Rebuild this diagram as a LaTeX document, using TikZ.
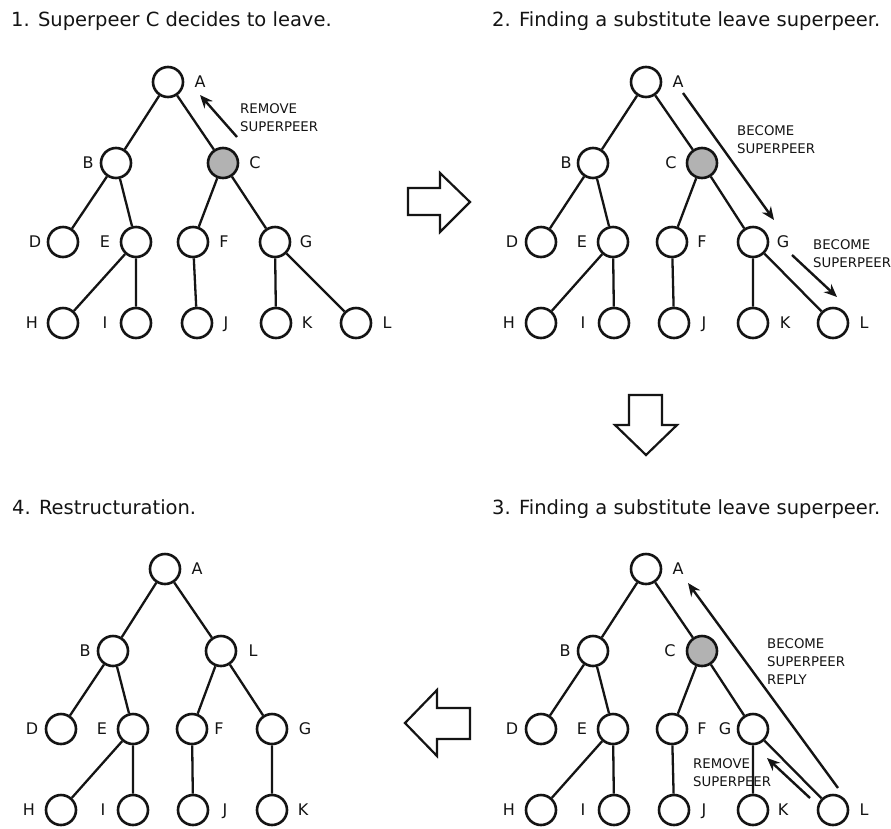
\documentclass[tikz,border=0pt]{standalone}
\usepackage{fontspec}
\setmainfont{DejaVu Sans}
\usetikzlibrary{arrows.meta}
\definecolor{spgrey}{RGB}{178,178,178}
\definecolor{ink}{RGB}{20,20,20}
\tikzset{
  peer/.style={circle, draw=ink, line width=2.6pt, minimum size=30pt, inner sep=0pt},
  leaving/.style={peer, fill=spgrey},
  lab/.style={font=\fontsize{16}{18}\selectfont, text=ink, inner sep=0pt, text height=11.7pt, text depth=0pt},
  ttl/.style={font=\fontsize{19.5}{23}\selectfont, text=ink, inner sep=0pt, anchor=west, text height=14.2pt, text depth=0pt},
  note/.style={font=\fontsize{13.3}{18}\selectfont, text=ink, inner sep=0pt, align=left, anchor=north west},
  link/.style={draw=ink, line width=2.3pt},
  msg/.style={draw=ink, line width=2.4pt, -{Stealth[length=13pt,width=11pt]}},
  bigarrow/.style={draw=ink, line width=2.2pt, line join=miter, fill=white},
}
\begin{document}
\begin{tikzpicture}[x=1pt,y=-1pt]
\useasboundingbox (0,0) rectangle (891,828);
\fill[white] (0,0) rectangle (891,828);

% ---------- titles ----------
\node[ttl] (t1) at (11,19.5) {1. Superpeer C decides to leave.};
\node[ttl] (t2) at (492,19.5) {2. Finding a substitute leave superpeer.};
\node[ttl] (t3) at (492,507) {3. Finding a substitute leave superpeer.};
\node[ttl] (t4) at (12,507) {4. Restructuration.};

% ---------- panel 1 ----------
\node[peer] (A1) at (168,82) {};
\node[peer] (B1) at (116,163) {};
\node[leaving] (C1) at (223,163) {};
\node[peer] (D1) at (63,242) {};
\node[peer] (E1) at (136,242) {};
\node[peer] (F1) at (193,242) {};
\node[peer] (G1) at (275,242) {};
\node[peer] (H1) at (63,323) {};
\node[peer] (I1) at (136,323) {};
\node[peer] (J1) at (197,323) {};
\node[peer] (K1) at (276,323) {};
\node[peer] (L1) at (356,323) {};
\node[lab] (lA1) at (200,82) {A};
\node[lab] (lB1) at (88,163) {B};
\node[lab] (lC1) at (255,163) {C};
\node[lab] (lD1) at (35,242) {D};
\node[lab] (lE1) at (105,242) {E};
\node[lab] (lF1) at (224,242) {F};
\node[lab] (lG1) at (306,242) {G};
\node[lab] (lH1) at (32,323) {H};
\node[lab] (lI1) at (105,323) {I};
\node[lab] (lJ1) at (226,323) {J};
\node[lab] (lK1) at (307,323) {K};
\node[lab] (lL1) at (387,323) {L};
\draw[link] (A1)--(B1) (A1)--(C1) (B1)--(D1) (B1)--(E1) (C1)--(F1) (C1)--(G1)
  (E1)--(H1) (E1)--(I1) (F1)--(J1) (G1)--(K1) (G1)--(L1);
\coordinate (r1s) at (237,137);
\coordinate (r1e) at (200,95);
\draw[msg] (r1s) -- (r1e);
\node[note] (n1) at (240,103) {REMOVE\\SUPERPEER};

% ---------- panel 2 ----------
\node[peer] (A2) at (646,82) {};
\node[peer] (B2) at (593,163) {};
\node[leaving] (C2) at (702,163) {};
\node[peer] (D2) at (541,242) {};
\node[peer] (E2) at (613,242) {};
\node[peer] (F2) at (672,242) {};
\node[peer] (G2) at (753,242) {};
\node[peer] (H2) at (541,323) {};
\node[peer] (I2) at (614,323) {};
\node[peer] (J2) at (674,323) {};
\node[peer] (K2) at (753,323) {};
\node[peer] (L2) at (833,323) {};
\node[lab] (lA2) at (678,82) {A};
\node[lab] (lB2) at (566,163) {B};
\node[lab] (lC2) at (671,163) {C};
\node[lab] (lD2) at (512,242) {D};
\node[lab] (lE2) at (582,242) {E};
\node[lab] (lF2) at (702,242) {F};
\node[lab] (lG2) at (783,242) {G};
\node[lab] (lH2) at (509,323) {H};
\node[lab] (lI2) at (583,323) {I};
\node[lab] (lJ2) at (704,323) {J};
\node[lab] (lK2) at (785,323) {K};
\node[lab] (lL2) at (864,323) {L};
\draw[link] (A2)--(B2) (A2)--(C2) (B2)--(D2) (B2)--(E2) (C2)--(F2) (C2)--(G2)
  (E2)--(H2) (E2)--(I2) (F2)--(J2) (G2)--(K2) (G2)--(L2);
\coordinate (b2s) at (683,93);
\coordinate (b2e) at (774,220);
\draw[msg] (b2s) -- (b2e);
\node[note] (n2a) at (737,125) {BECOME\\SUPERPEER};
\coordinate (c2s) at (792,255);
\coordinate (c2e) at (837,297);
\draw[msg] (c2s) -- (c2e);
\node[note] (n2b) at (813,239) {BECOME\\SUPERPEER};

% ---------- panel 3 ----------
\node[peer] (A3) at (646,569) {};
\node[peer] (B3) at (593,651) {};
\node[leaving] (C3) at (702,651) {};
\node[peer] (D3) at (541,729) {};
\node[peer] (E3) at (613,729) {};
\node[peer] (F3) at (672,729) {};
\node[peer] (G3) at (753,729) {};
\node[peer] (H3) at (541,810) {};
\node[peer] (I3) at (614,810) {};
\node[peer] (J3) at (674,810) {};
\node[peer] (K3) at (753,810) {};
\node[peer] (L3) at (833,810) {};
\node[lab] (lA3) at (678,569) {A};
\node[lab] (lB3) at (565,651) {B};
\node[lab] (lC3) at (670,651) {C};
\node[lab] (lD3) at (512,729) {D};
\node[lab] (lE3) at (582,729) {E};
\node[lab] (lF3) at (702,729) {F};
\node[lab] (lG3) at (725,729) {G};
\node[lab] (lH3) at (509,810) {H};
\node[lab] (lI3) at (583,810) {I};
\node[lab] (lJ3) at (704,810) {J};
\node[lab] (lK3) at (783,810) {K};
\node[lab] (lL3) at (864,810) {L};
\draw[link] (A3)--(B3) (A3)--(C3) (B3)--(D3) (B3)--(E3) (C3)--(F3) (C3)--(G3)
  (E3)--(H3) (E3)--(I3) (F3)--(J3) (G3)--(K3) (G3)--(L3);
\coordinate (r3s) at (838,788);
\coordinate (r3e) at (688,583);
\draw[msg] (r3s) -- (r3e);
\node[note] (n3a) at (767,638) {BECOME\\SUPERPEER\\REPLY};
\coordinate (m3s) at (810,798);
\coordinate (m3e) at (767,758);
\draw[msg] (m3s) -- (m3e);
\node[note] (n3b) at (693,758) {REMOVE\\SUPERPEER};

% ---------- panel 4 ----------
\node[peer] (A4) at (165,569) {};
\node[peer] (B4) at (113,651) {};
\node[peer] (L4) at (221,651) {};
\node[peer] (D4) at (61,729) {};
\node[peer] (E4) at (133,729) {};
\node[peer] (F4) at (192,729) {};
\node[peer] (G4) at (272,729) {};
\node[peer] (H4) at (61,810) {};
\node[peer] (I4) at (133,810) {};
\node[peer] (J4) at (193,810) {};
\node[peer] (K4) at (272,810) {};
\node[lab] (lA4) at (197,569) {A};
\node[lab] (lB4) at (85,651) {B};
\node[lab] (lL4) at (253,651) {L};
\node[lab] (lD4) at (32,729) {D};
\node[lab] (lE4) at (102,729) {E};
\node[lab] (lF4) at (219,729) {F};
\node[lab] (lG4) at (305,729) {G};
\node[lab] (lH4) at (29,810) {H};
\node[lab] (lI4) at (103,810) {I};
\node[lab] (lJ4) at (225,810) {J};
\node[lab] (lK4) at (303,810) {K};
\draw[link] (A4)--(B4) (A4)--(L4) (B4)--(D4) (B4)--(E4) (L4)--(F4) (L4)--(G4)
  (E4)--(H4) (E4)--(I4) (F4)--(J4) (G4)--(K4);

% ---------- hollow step arrows ----------
\draw[bigarrow] (408,188) -- (440,188) -- (440,173) -- (470,202) -- (440,232) -- (440,215) -- (408,215) -- cycle;
\draw[bigarrow] (629,395) -- (662,395) -- (662,425) -- (677,425) -- (646,455) -- (615,425) -- (629,425) -- cycle;
\draw[bigarrow] (470,708) -- (437,708) -- (437,690) -- (405,723) -- (437,756) -- (437,739) -- (470,739) -- cycle;
\end{tikzpicture}
\end{document}
